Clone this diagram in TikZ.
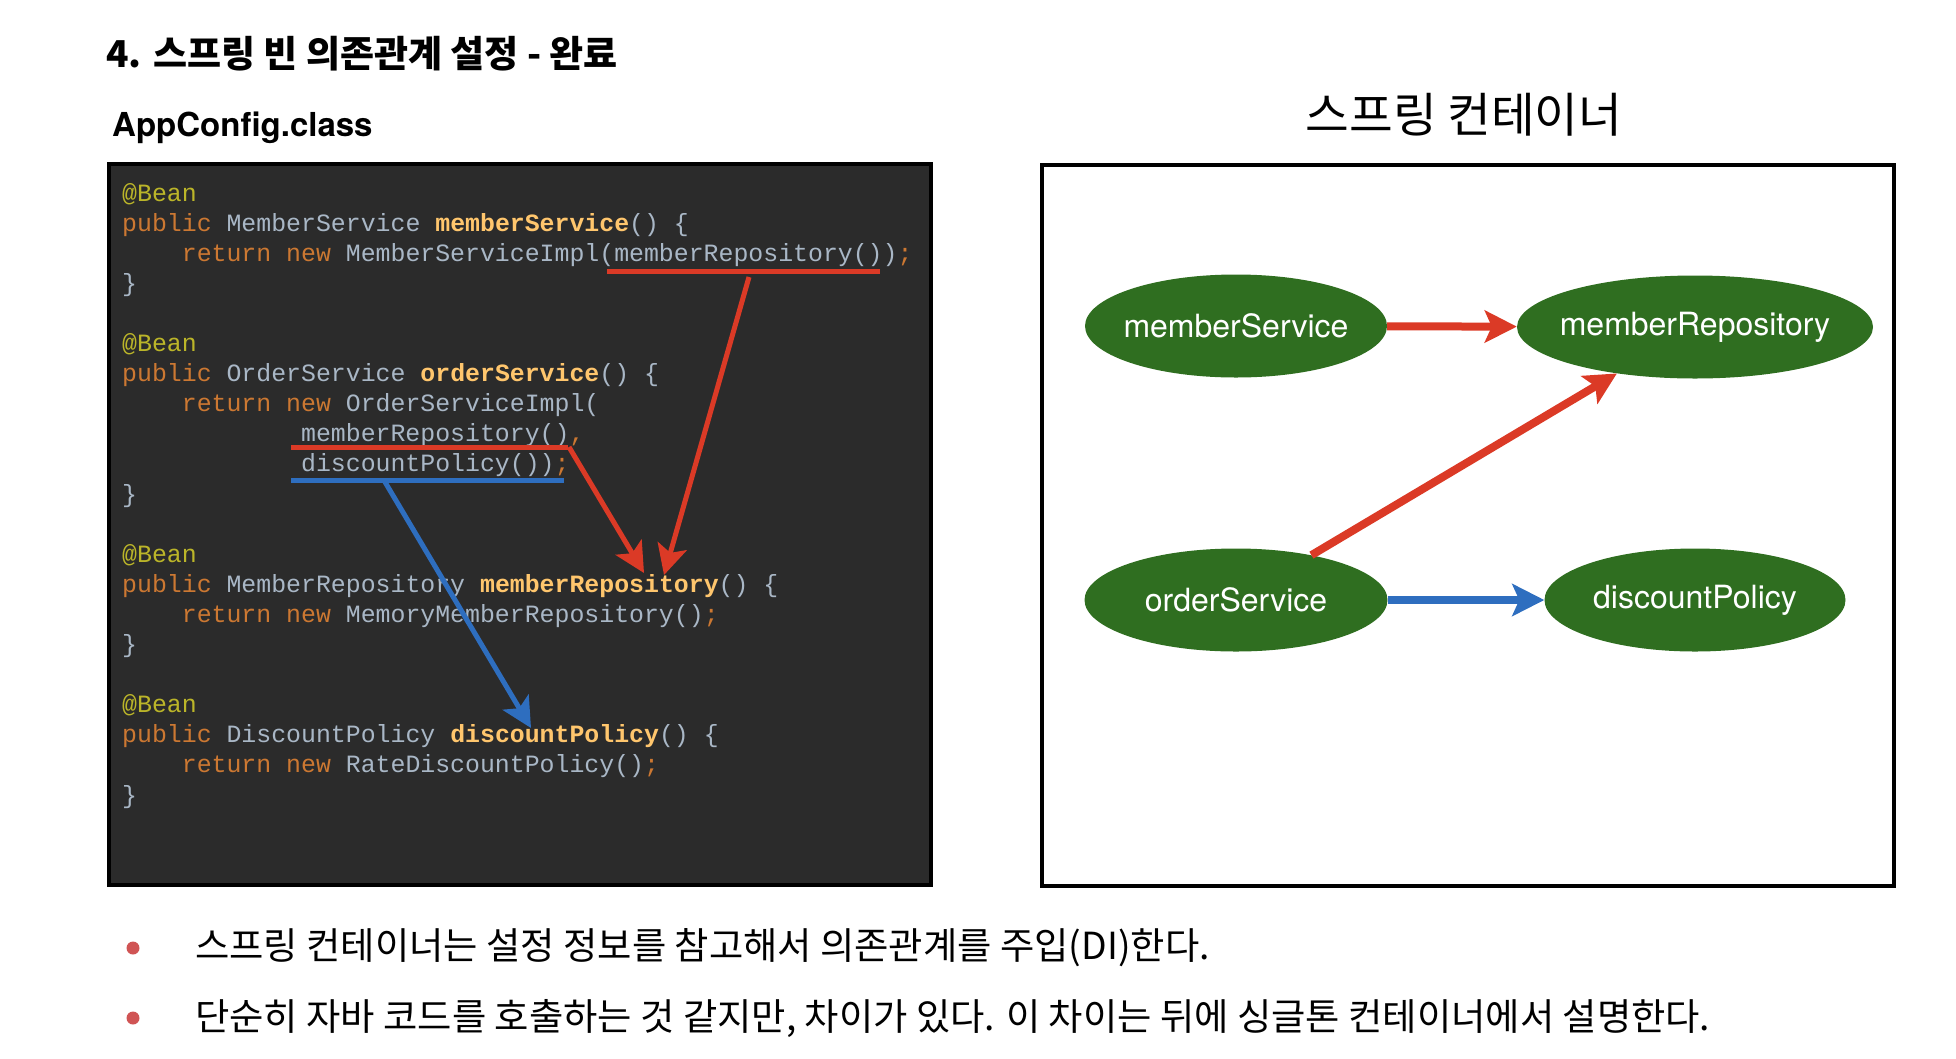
\documentclass[tikz,border=0pt]{standalone}
\usepackage{fontspec}
\setmainfont{TeX Gyre Heros}
\newfontfamily\kr{Noto Sans CJK KR}
\newfontfamily\codefont{Liberation Mono}
\usetikzlibrary{arrows.meta,shapes.geometric}
\definecolor{codebg}{HTML}{2B2B2B}
\definecolor{codeplain}{HTML}{A9B7C6}
\definecolor{codekw}{HTML}{CC7832}
\definecolor{codeann}{HTML}{BBB529}
\definecolor{codefn}{HTML}{FFC66D}
\definecolor{arrowred}{HTML}{DB3A26}
\definecolor{arrowblue}{HTML}{2E6EBF}
\definecolor{beangreen}{HTML}{2F6E20}
\definecolor{bulletred}{HTML}{D05454}
\newcommand{\kwd}[1]{\textcolor{codekw}{#1}}
\newcommand{\ann}[1]{\textcolor{codeann}{#1}}
\newcommand{\fnm}[1]{\textcolor{codefn}{\bfseries #1}}
\newcommand{\beantext}[1]{\makebox[0pt]{#1}}
\tikzset{
  codeline/.style={anchor=base west, inner sep=0pt, text=codeplain,
    font=\codefont\fontsize{24.85}{30}\selectfont},
  bean/.style={ellipse, fill=beangreen, text=white, inner sep=0pt,
    minimum height=103pt, font=\fontsize{32}{38}\selectfont},
  redline/.style={draw=arrowred, line width=8pt, -{Stealth[length=32pt,width=32pt,inset=7pt]}},
  blueline/.style={draw=arrowblue, line width=8pt, -{Stealth[length=32pt,width=32pt,inset=7pt]}},
  coderedarrow/.style={draw=arrowred, line width=5pt, -{Stealth[length=30pt,width=30pt,inset=7pt]}},
  codebluearrow/.style={draw=arrowblue, line width=5pt, -{Stealth[length=30pt,width=30pt,inset=7pt]}},
  underred/.style={draw=arrowred, line width=5pt},
  underblue/.style={draw=arrowblue, line width=5pt},
  bulletdot/.style={circle, fill=bulletred, inner sep=0pt, minimum size=13pt},
  bullettext/.style={anchor=west, inner sep=0pt, font=\kr\fontsize{37.3}{44}\selectfont},
}
\begin{document}
\begin{tikzpicture}[x=1pt,y=-1pt]
\useasboundingbox (0,0) rectangle (1956,1058);
% titles
\node[anchor=west, inner sep=0pt, font=\kr\bfseries\fontsize{37}{44}\selectfont] (title) at (106,54) {4. 스프링 빈 의존관계 설정 - 완료};
\node[anchor=west, inner sep=0pt, font=\bfseries\fontsize{33}{39}\selectfont] (appcfg) at (112,128) {AppConfig.class};
\node[inner sep=0pt, font=\kr\fontsize{47.5}{55}\selectfont] (ctitle) at (1464,115) {스프링 컨테이너};
% code box
\node[draw=black, line width=4pt, fill=codebg, inner sep=0pt, minimum width=822pt, minimum height=721pt, anchor=north west] (codebox) at (107,162) {};
\foreach \i/\ind/\txt in {
  0/0/{\ann{@Bean}},
  1/0/{\kwd{public} MemberService \fnm{memberService}() \{},
  2/4/{\kwd{return new} MemberServiceImpl(memberRepository())\kwd{;}},
  3/0/{\}},
  5/0/{\ann{@Bean}},
  6/0/{\kwd{public} OrderService \fnm{orderService}() \{},
  7/4/{\kwd{return new} OrderServiceImpl(},
  8/12/{memberRepository()\kwd{,}},
  9/12/{discountPolicy())\kwd{;}},
  10/0/{\}},
  12/0/{\ann{@Bean}},
  13/0/{\kwd{public} MemberRepository \fnm{memberRepository}() \{},
  14/4/{\kwd{return new} MemoryMemberRepository()\kwd{;}},
  15/0/{\}},
  17/0/{\ann{@Bean}},
  18/0/{\kwd{public} DiscountPolicy \fnm{discountPolicy}() \{},
  19/4/{\kwd{return new} RateDiscountPolicy()\kwd{;}},
  20/0/{\}}
}{
  \node[codeline] (cl\i) at ({122+\ind*14.91},{201+30.1*\i}) {\txt};
}
% underlines
\coordinate (u1a) at (607,271); \coordinate (u1b) at (880,271);
\coordinate (u2a) at (291,447); \coordinate (u2b) at (568,447);
\coordinate (u3a) at (291,480); \coordinate (u3b) at (564,480);
\draw[underred] (u1a) -- (u1b);
\draw[underred] (u2a) -- (u2b);
\draw[underblue] (u3a) -- (u3b);
% code arrows
\coordinate (s1) at (749,277); \coordinate (t1) at (664,575);
\coordinate (s2) at (569,447); \coordinate (t2) at (644,573);
\coordinate (s3) at (385,482); \coordinate (t3) at (531,728);
\draw[coderedarrow] (s1) -- (t1);
\draw[coderedarrow] (s2) -- (t2);
\draw[codebluearrow] (s3) -- (t3);
% container
\node[draw=black, line width=3.5pt, inner sep=0pt, minimum width=852pt, minimum height=721pt, anchor=north west] (cbox) at (1040,163) {};
\node[bean, minimum width=302pt] (ms) at (1236,326) {\beantext{memberService}};
\node[bean, minimum width=356pt] (mr) at (1695,327) {\beantext{memberRepository}};
\node[bean, minimum width=303pt] (os) at (1236,600) {\beantext{orderService}};
\node[bean, minimum width=301pt] (dp) at (1695,600) {\beantext{discountPolicy}};
\draw[redline] (ms) -- (mr);
\draw[redline] (os) -- (mr);
\draw[blueline] (os) -- (dp);
% bullets
\node[bulletdot] (b1) at (133,948) {};
\node[bulletdot] (b2) at (133,1018) {};
\node[bullettext] (t1txt) at (195,948) {스프링 컨테이너는 설정 정보를 참고해서 의존관계를 주입(DI)한다.};
\node[bullettext] (t2txt) at (195,1019) {단순히 자바 코드를 호출하는 것 같지만, 차이가 있다. 이 차이는 뒤에 싱글톤 컨테이너에서 설명한다.};
\end{tikzpicture}
\end{document}
